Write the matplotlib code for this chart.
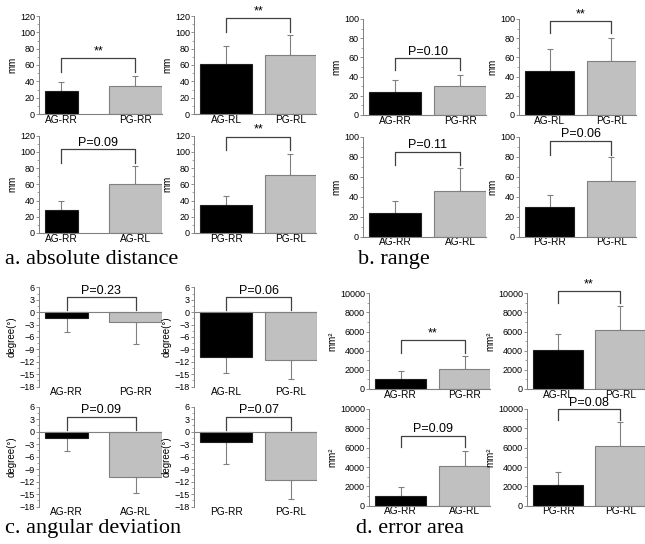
import matplotlib
matplotlib.use('Agg')
import matplotlib.pyplot as plt
from matplotlib.ticker import AutoMinorLocator

plt.rcParams['font.family'] = ['Liberation Sans', 'DejaVu Sans']

W, H = 645, 544

# data (mean, SD)
groups = ['AG-RR', 'PG-RR', 'AG-RL', 'PG-RL']
dist_mean = [28, 34, 61, 72]
dist_sd = [11, 12, 22, 25]
range_mean = [24, 30, 46, 56]
range_sd = [12, 12, 23, 24]
angle_mean = [-1.5, -2.4, -10.8, -11.6]
angle_sd = [3.2, 5.4, 4.0, 4.5]
area_mean = [1050, 2100, 4100, 6200]
area_sd = [850, 1350, 1600, 2500]

# which two groups each small plot compares: top-left, top-right, bottom-left, bottom-right
pairs = [(0, 1), (2, 3), (0, 2), (1, 3)]
dist_p = ['**', '**', 'P=0.09', '**']
range_p = ['P=0.10', '**', 'P=0.11', 'P=0.06']
angle_p = ['P=0.23', 'P=0.06', 'P=0.09', 'P=0.07']
area_p = ['**', '**', 'P=0.09', 'P=0.08']

fig = plt.figure(figsize=(W / 100, H / 100), dpi=100)

GRAY = '#808080'


def add_ax(x0, x1, ytop, ybot):
    return fig.add_axes([x0 / W, 1 - ybot / H, (x1 - x0) / W, (ybot - ytop) / H])


def panel(boxes, mean, sd, plabels, ylim, yticks, ylabel, brackets, widths_list, xlims):
    for k, (box, (i, j)) in enumerate(zip(boxes, pairs)):
        ax = add_ax(*box)
        vals = [mean[i], mean[j]]
        errs = [sd[i], sd[j]]
        neg = vals[0] < 0
        ax.bar([0, 1], vals, width=widths_list[k], color=['black', '#c0c0c0'],
               edgecolor=['#202020', GRAY], linewidth=0.8, zorder=2)
        if neg:
            yerr = [errs, [0, 0]]
        else:
            yerr = [[0, 0], errs]
        ax.errorbar([0, 1], vals, yerr=yerr, fmt='none', ecolor=GRAY,
                    elinewidth=0.8, capsize=2, capthick=0.8, zorder=1)
        ax.set_xlim(*xlims[k])
        ax.set_ylim(*ylim)
        ax.set_yticks(yticks)
        ax.yaxis.set_minor_locator(AutoMinorLocator(2))
        ax.tick_params(axis='y', labelsize=6.5, length=2, width=0.6, color=GRAY, pad=1)
        ax.tick_params(axis='y', which='minor', length=1.2, width=0.5, color=GRAY)
        ax.set_xticks([0, 1])
        ax.set_xticklabels([groups[i], groups[j]], fontsize=7.3)
        ax.tick_params(axis='x', length=0, pad=0.5)
        for s in ['top', 'right']:
            ax.spines[s].set_visible(False)
        ax.spines['left'].set_color(GRAY)
        ax.spines['left'].set_linewidth(0.7)
        if neg:
            ax.spines['bottom'].set_visible(False)
            ax.axhline(0, color=GRAY, lw=0.8, zorder=3)
        else:
            ax.spines['bottom'].set_color(GRAY)
            ax.spines['bottom'].set_linewidth(0.8)
        ax.set_ylabel(ylabel, fontsize=7, labelpad=2)
        ax.patch.set_alpha(0)
        lo, hi = brackets[k]
        ax.plot([0, 0, 1, 1], [lo, hi, hi, lo], color='#404040', lw=0.9,
                clip_on=False, zorder=4)
        txt = plabels[k]
        fs = 9 if txt == '**' else 9
        ax.annotate(txt, (0.5, hi), xytext=(0, 0.5), textcoords='offset points',
                    ha='center', va='bottom', fontsize=fs, annotation_clip=False)


std_w = [(0.8, 0.8)] * 4
std_x = [(-0.5, 1.4)] * 4

# a. absolute distance
panel([(39, 162, 16, 114), (194, 316, 16, 114), (39, 162, 135.7, 233), (194, 316, 135.7, 233)],
      dist_mean, dist_sd, dist_p, (0, 120), range(0, 121, 20), 'mm',
      [(52, 69), (100, 117), (86, 103), (102, 119)],
      [(0.45, 0.72), (0.8, 0.8), (0.45, 0.72), (0.8, 0.8)],
      [(-0.30, 1.36), (-0.5, 1.4), (-0.30, 1.36), (-0.5, 1.4)])

# b. range
panel([(363, 486, 19, 115), (519, 636, 19, 115), (363, 486, 136.7, 236.7), (519, 636, 136.7, 236.7)],
      range_mean, range_sd, range_p, (0, 100), range(0, 101, 20), 'mm',
      [(47, 59), (85, 98), (72, 85), (82, 96)], std_w, std_x)

# c. angular deviation
panel([(39, 162, 287.3, 386.7), (194, 317, 287.3, 386.7), (39, 162, 406.7, 506.7), (194, 317, 406.7, 506.7)],
      angle_mean, angle_sd, angle_p, (-18, 6), range(-18, 7, 3), 'degree(°)',
      [(0.5, 3.6), (0.5, 3.6), (0.5, 3.6), (0.5, 3.6)],
      [(0.62, 0.77), (0.8, 0.8), (0.62, 0.77), (0.8, 0.8)],
      [(-0.40, 1.38), (-0.5, 1.4), (-0.40, 1.38), (-0.5, 1.4)])

# d. error area
panel([(369, 490, 293.3, 389), (527, 645, 293.3, 389), (369, 490, 409, 505.7), (527, 645, 409, 505.7)],
      area_mean, area_sd, area_p, (0, 10000), range(0, 10001, 2000), 'mm²',
      [(3730, 5120), (8950, 10270), (6100, 7240), (8900, 9970)], std_w, std_x)

serif = ['Liberation Serif', 'DejaVu Serif']
fig.text(5 / W, 1 - 264 / H, 'a. absolute distance', family=serif, fontsize=16, va='baseline')
fig.text(358 / W, 1 - 264 / H, 'b. range', family=serif, fontsize=16, va='baseline')
fig.text(5 / W, 1 - 533 / H, 'c. angular deviation', family=serif, fontsize=16, va='baseline')
fig.text(356 / W, 1 - 533 / H, 'd. error area', family=serif, fontsize=16, va='baseline')

fig.savefig('out.png', dpi=100)
